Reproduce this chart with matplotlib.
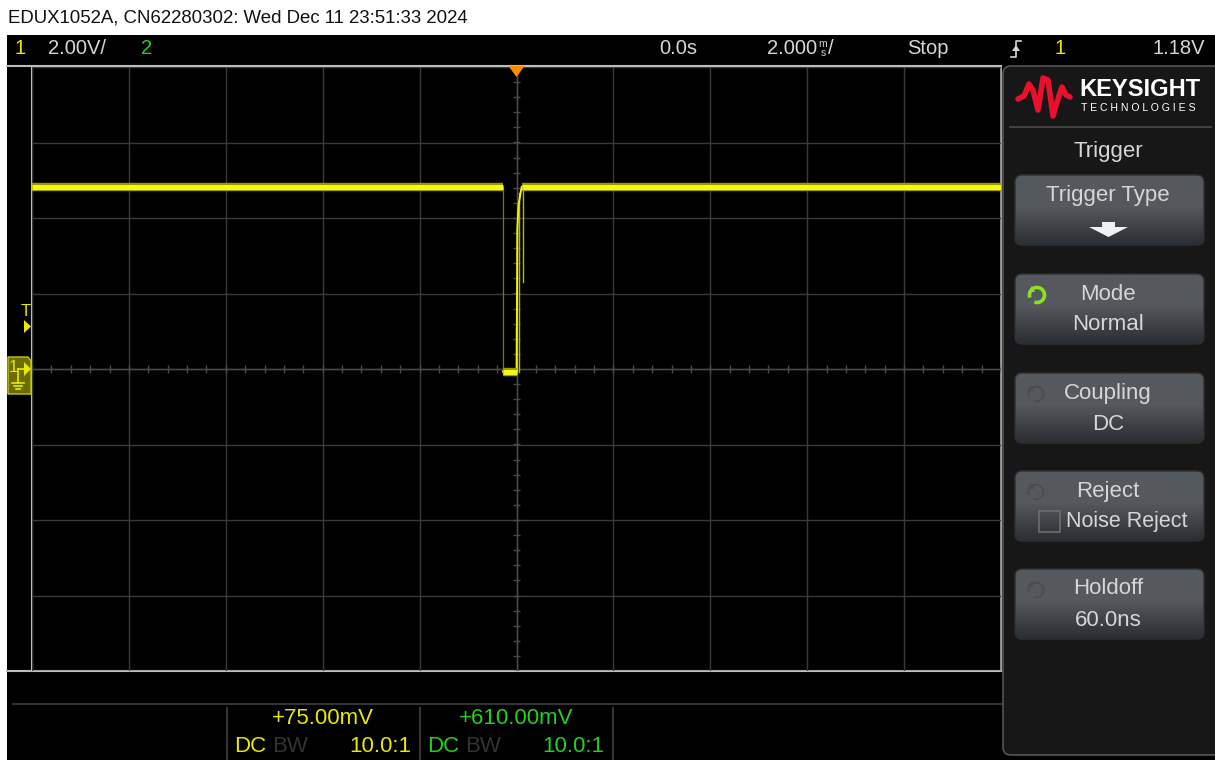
import numpy as np
import matplotlib
matplotlib.use('Agg')
import matplotlib.pyplot as plt
from matplotlib.patches import FancyBboxPatch, Polygon, Rectangle, Arc

W, H = 1215, 760
NARROW = ['Liberation Sans', 'DejaVu Sans']

# ── capture header / scope settings ────────────────────────────────────────
TITLE = 'EDUX1052A, CN62280302: Wed Dec 11 23:51:33 2024'
CH1_SCALE = '2.00V/'
TIME_POS = '0.0s'
TIME_SCALE = '2.000'
RUN_STATE = 'Stop'
TRIG_LEVEL = '1.18V'
CH1_OFFSET = '+75.00mV'
CH2_OFFSET = '+610.00mV'
PROBE = '10.0:1'
SOFTKEYS = [('Trigger Type', None), ('Mode', 'Normal'), ('Coupling', 'DC'),
            ('Reject', 'Noise Reject'), ('Holdoff', '60.0ns')]

# ── channel 1 trace (time in ms, volts) ────────────────────────────────────
T_MAIN = [-10.0, -0.28, -0.28, 0.004, 0.017, 0.041, 0.107, 10.0]
V_MAIN = [4.83, 4.83, -0.07, -0.07, 3.68, 4.34, 4.83, 4.83]
# extra acquisitions overlaid on the rising edge
GHOST_T = [[0.058, 0.058], [0.14, 0.14], [-0.01, -0.01]]
GHOST_V = [[-0.07, 4.66], [4.83, 2.30], [-0.07, 1.09]]

MS_PER_DIV, V_PER_DIV = 2.0, 2.0
NDIV_X, NDIV_Y = 10, 8

# colours
YEL = '#e8e800'
GRN = '#22d022'
TXT = '#d6d6d6'
GRID = '#3a3a3a'
FRAME = '#bdbdbd'

fig = plt.figure(figsize=(W / 100, H / 100), dpi=100, facecolor='white')

def px_axes(z):
    a = fig.add_axes([0, 0, 1, 1], zorder=z)
    a.set_xlim(0, W); a.set_ylim(H, 0)
    a.axis('off'); a.patch.set_alpha(0)
    return a

bg = px_axes(0)
fg = px_axes(2)

# screen background
bg.add_patch(Rectangle((7, 35), W - 7, H - 35, facecolor='black', edgecolor='none'))
bg.text(8, 18, TITLE, fontsize=13.4, family=NARROW, color='#111111', va='center')

# status bar
sy = 49
FS = 14.5
bg.text(14, sy, '1', color=YEL, fontsize=FS, family=NARROW, va='center')
bg.text(48, sy, CH1_SCALE, color=TXT, fontsize=FS, family=NARROW, va='center')
bg.text(141, sy, '2', color=GRN, fontsize=FS, family=NARROW, va='center')
bg.text(697, sy, TIME_POS, color=TXT, fontsize=FS, family=NARROW, va='center', ha='right')
bg.text(767, sy, TIME_SCALE, color=TXT, fontsize=FS, family=NARROW, va='center')
bg.text(823, sy - 5, 'm', color=TXT, fontsize=7.5, family=NARROW, va='center', ha='center')
bg.text(823, sy + 4, 's', color=TXT, fontsize=7.5, family=NARROW, va='center', ha='center')
bg.text(828, sy, '/', color=TXT, fontsize=FS, family=NARROW, va='center')
bg.text(907, sy, RUN_STATE, color=TXT, fontsize=FS, family=NARROW, va='center')
bg.text(1205, sy, TRIG_LEVEL, color=TXT, fontsize=FS, family=NARROW, va='center', ha='right')
bg.text(1054, sy, '1', color=YEL, fontsize=FS, family=NARROW, va='center')
# rising edge trigger glyph
bg.plot([1011, 1016, 1016, 1021], [57, 57, 41, 41], color=TXT, lw=1.2)
bg.add_patch(Polygon([[1012, 51], [1020, 51], [1016, 45]], closed=True,
                     facecolor=TXT, edgecolor='none'))

# ── graticule with waveform ────────────────────────────────────────────────
gx0, gx1, gy0, gy1 = 32, 1001, 67, 671
ax = fig.add_axes([gx0 / W, 1 - gy1 / H, (gx1 - gx0) / W, (gy1 - gy0) / H], zorder=1)
ax.set_facecolor('none')
xhalf = MS_PER_DIV * NDIV_X / 2
yhalf = V_PER_DIV * NDIV_Y / 2
ax.set_xlim(-xhalf, xhalf)
ax.set_ylim(-yhalf, yhalf)
ax.set_xticks(np.arange(-xhalf, xhalf + 0.01, MS_PER_DIV))
ax.set_yticks(np.arange(-yhalf, yhalf + 0.01, V_PER_DIV))
ax.tick_params(length=0, labelbottom=False, labelleft=False)
ax.grid(True, color=GRID, lw=1.0)
for s in ax.spines.values():
    s.set_visible(False)

# centre cross-hair with minor ticks
ax.axhline(0, color='#4a4a4a', lw=1.0)
ax.axvline(0, color='#4a4a4a', lw=1.0)
mx = np.arange(-xhalf, xhalf + 0.01, MS_PER_DIV / 5)
my = np.arange(-yhalf, yhalf + 0.01, V_PER_DIV / 5)
ax.vlines(mx, -0.1, 0.1, color='#4a4a4a', lw=1.0)
ax.hlines(my, -0.08, 0.08, color='#4a4a4a', lw=1.0)

# trace: thin edges, thick noisy levels
ax.plot(T_MAIN[1:3], V_MAIN[1:3], color='#7a7a00', lw=0.9, zorder=3)
ax.plot(T_MAIN[2:], V_MAIN[2:], color='#f4f400', lw=1.4, zorder=4)
for gt, gv in zip(GHOST_T, GHOST_V):
    ax.plot(gt, gv, color='#b8b800', lw=1.0, zorder=3)
for seg in (slice(0, 2), slice(2, 4), slice(6, 8)):
    ax.plot(T_MAIN[seg], V_MAIN[seg], color='#9c9c00', lw=6.0,
            solid_capstyle='butt', zorder=4)
    ax.plot(T_MAIN[seg], V_MAIN[seg], color='#f6f610', lw=3.6,
            solid_capstyle='butt', zorder=5)

# graticule frame
bg.plot([7, gx1], [66, 66], color=FRAME, lw=1.5)
bg.plot([7, gx1], [gy1, gy1], color=FRAME, lw=1.5)
bg.plot([gx0, gx0], [66, gy1], color=FRAME, lw=1.5)
bg.plot([gx1, gx1], [66, gy1], color=FRAME, lw=1.2)

# trigger position marker
fg.add_patch(Polygon([[508.5, 66], [524.5, 66], [516.5, 77]], closed=True,
                     facecolor='#ff8c00', edgecolor='none'))

# trigger level marker
fg.text(26, 311, 'T', color=YEL, fontsize=12, family=NARROW, ha='center', va='center')
fg.add_patch(Polygon([[24, 320], [24, 333], [31, 326.5]], closed=True,
                     facecolor=YEL, edgecolor='none'))

# channel 1 ground marker
fg.add_patch(Polygon([[8, 357], [28, 357], [31, 361], [31, 394], [8, 394]], closed=True,
                     facecolor='#6c6c00', edgecolor='#c8c800', lw=1.0))
fg.text(13, 368, '1', color=YEL, fontsize=12, family=NARROW, ha='center', va='center')
fg.add_patch(Polygon([[24, 362], [24, 376], [31, 369]], closed=True,
                     facecolor=YEL, edgecolor='none'))
fg.plot([18, 24], [369, 369], color=YEL, lw=1.2)
fg.plot([18, 18], [369, 383], color=YEL, lw=1.2)
for i, hw in enumerate([6, 4, 2]):
    fg.plot([18 - hw, 18 + hw], [383 + 3 * i, 383 + 3 * i], color=YEL, lw=1.2)

# ── channel info strip ──────────────────────────────────────────────────────
bg.plot([13, gx1], [704, 704], color='#333333', lw=1.5)
for x in (227, 420, 613):
    bg.plot([x, x], [708, H], color='#333333', lw=1.5)
for x0, col, off in ((227, YEL, CH1_OFFSET), (420, GRN, CH2_OFFSET)):
    bg.text(x0 + 96, 719, off, color=col, fontsize=16, family=NARROW, ha='center', va='center')
    bg.text(x0 + 7, 746, 'DC', color=col, fontsize=16, family=NARROW, va='center')
    bg.text(x0 + 45, 746, 'BW', color='#333333', fontsize=16, family=NARROW, va='center')
    bg.text(x0 + 184, 746, PROBE, color=col, fontsize=16, family=NARROW, ha='right', va='center')

# ── softkey panel ───────────────────────────────────────────────────────────
bg.add_patch(FancyBboxPatch((1003, 66), 240, 689,
                            boxstyle='round,pad=0,rounding_size=8',
                            facecolor='#171717', edgecolor='#555555', lw=1.2))

# logo wave
wave_x = [1018, 1024, 1029, 1033, 1038, 1043, 1048, 1053, 1057, 1062, 1066, 1070]
wave_y = [99, 96, 84, 90, 110, 78, 80, 116, 102, 87, 95, 97]
bg.plot(wave_x, wave_y, color='#e8102a', lw=4.0, solid_joinstyle='round',
        solid_capstyle='round')
bg.text(1079, 89, 'KEYSIGHT', color='white', fontsize=17, fontweight='bold',
        family=['Liberation Sans', 'DejaVu Sans'], va='center')
bg.text(1081, 108, 'T E C H N O L O G I E S', color='white', fontsize=7.6,
        family=['Liberation Sans', 'DejaVu Sans'], va='center')
bg.plot([1010, 1211], [127, 127], color='#4a4a4a', lw=1.2)
bg.text(1108, 151, 'Trigger', color=TXT, fontsize=16, family=NARROW,
        ha='center', va='center')

grad = np.concatenate([np.zeros(45), np.linspace(0, 1, 55)])
top_c = np.array([0x55, 0x59, 0x5d]) / 255
bot_c = np.array([0x2a, 0x2d, 0x31]) / 255
grad_img = (top_c[None, :] * (1 - grad[:, None]) + bot_c[None, :] * grad[:, None])[:, None, :]

key_tops = [175, 274, 373, 471, 569]
for (line1, line2), ytop in zip(SOFTKEYS, key_tops):
    box = FancyBboxPatch((1015, ytop), 189, 70, boxstyle='round,pad=0,rounding_size=7',
                         facecolor='none', edgecolor='#2e3033', lw=1.0, zorder=3)
    bg.add_patch(box)
    im = bg.imshow(grad_img, extent=(1015, 1204, ytop + 70, ytop), aspect='auto',
                   zorder=2, interpolation='bilinear')
    im.set_clip_path(box)
    bg.text(1108, ytop + 20, line1, color=TXT, fontsize=16, family=NARROW,
            ha='center', va='center', zorder=4)
    if line2 is None:
        bg.add_patch(Rectangle((1102, ytop + 47), 13, 5, facecolor='#f0f0f0',
                               edgecolor='none', zorder=4))
        bg.add_patch(Polygon([[1089, ytop + 52], [1128, ytop + 52], [1108.5, ytop + 62]],
                             closed=True, facecolor='#f0f0f0', edgecolor='none', zorder=4))
        continue
    if line1 == 'Reject':
        bg.add_patch(Rectangle((1039, ytop + 40), 21, 21, facecolor='none',
                               edgecolor='#6e6e6e', lw=1.2, zorder=4))
        bg.text(1066, ytop + 51, line2, color=TXT, fontsize=15.5, family=NARROW,
                va='center', zorder=4)
    else:
        bg.text(1108, ytop + 51, line2, color=TXT, fontsize=16, family=NARROW,
                ha='center', va='center', zorder=4)
    # rotary knob icon
    icol = '#8ee01c' if line1 == 'Mode' else '#4a4c4f'
    cx, cy = (1037, ytop + 21) if line1 == 'Mode' else (1036, ytop + 21)
    bg.add_patch(Arc((cx, cy), 15, 15, theta1=-200, theta2=110, color=icol,
                     lw=2.6 if line1 == 'Mode' else 1.2, zorder=4))
    bg.add_patch(Polygon([[cx - 9, cy - 3], [cx - 2, cy - 3], [cx - 5, cy - 9]],
                         closed=True, facecolor=icol, edgecolor='none', zorder=4))

fig.savefig('out.png', dpi=100, facecolor='white')
